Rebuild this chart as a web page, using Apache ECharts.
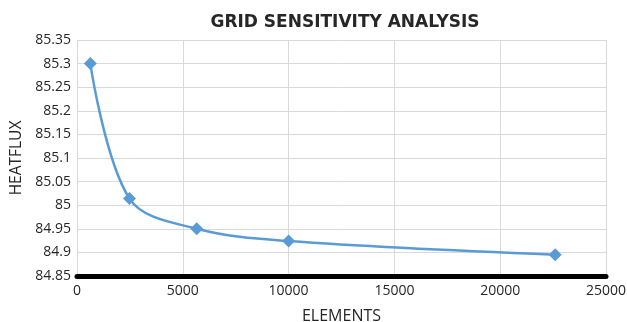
<!DOCTYPE html>
<html>
<head>
<meta charset="utf-8">
<script src="https://cdn.jsdelivr.net/npm/echarts@6/dist/echarts.min.js"></script>
<style>
  html, body { margin: 0; padding: 0; background: #fff; }
  #chart { width: 627px; height: 322px; }
</style>
</head>
<body>
<div id="chart"></div>
<script>
// Mesh size (number of elements) and the resulting heat flux
const elements = [630, 2480, 5660, 10000, 22600];
const heatflux = [85.30, 85.014, 84.95, 84.924, 84.895];

// Axis ranges and tick spacing
const xTicks = { min: 0, max: 25000, step: 5000 };
const yTicks = { min: 84.85, max: 85.35, step: 0.05 };

const chart = echarts.init(document.getElementById('chart'));
const fontFamily = '"Open Sans", "Liberation Sans", sans-serif';
const textColor = '#262626';

chart.setOption({
  animation: false,
  title: {
    text: 'GRID SENSITIVITY ANALYSIS',
    left: 340,
    top: 9,
    textAlign: 'center',
    textStyle: { fontFamily: '"DejaVu Sans", sans-serif', fontSize: 17, fontWeight: 'bold', color: textColor }
  },
  grid: { left: 77, right: 21, top: 40, bottom: 46, outerBoundsMode: 'none', containLabel: false },
  xAxis: {
    type: 'value',
    min: xTicks.min,
    max: xTicks.max,
    interval: xTicks.step,
    name: 'ELEMENTS',
    nameLocation: 'middle',
    nameGap: 32,
    nameTextStyle: { fontFamily, fontSize: 16, color: textColor },
    axisLine: { show: true, onZero: false, lineStyle: { color: '#000', width: 5 } },
    axisTick: { show: false },
    axisLabel: {
      fontFamily, fontSize: 14, color: textColor, margin: 8,
      formatter: v => String(v)
    },
    splitLine: { show: true, lineStyle: { color: '#d9d9d9', width: 1 } }
  },
  yAxis: {
    type: 'value',
    min: yTicks.min,
    max: yTicks.max,
    interval: yTicks.step,
    name: 'HEATFLUX',
    nameLocation: 'middle',
    nameGap: 51,
    nameRotate: 90,
    nameTextStyle: { fontFamily, fontSize: 15.5, color: textColor },
    axisLine: { show: false },
    axisTick: { show: false },
    axisLabel: {
      fontFamily, fontSize: 14, color: textColor, margin: 6,
      formatter: v => String(parseFloat(v.toFixed(2)))
    },
    splitLine: { show: true, lineStyle: { color: '#d9d9d9', width: 1 } }
  },
  series: [{
    type: 'line',
    data: elements.map((e, i) => [e, heatflux[i]]),
    smooth: 0.35,
    symbol: 'diamond',
    symbolSize: 13,
    lineStyle: { color: '#5b9bd5', width: 2.5 },
    itemStyle: { color: '#5b9bd5' }
  }]
});
</script>
</body>
</html>
